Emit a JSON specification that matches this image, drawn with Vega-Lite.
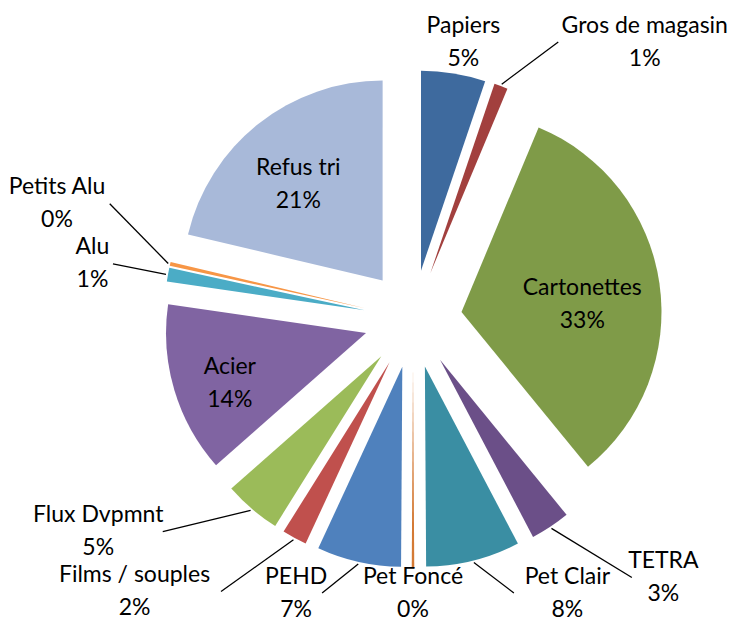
{
  "$schema": "https://vega.github.io/schema/vega-lite/v6.json",
  "width": 752,
  "height": 624,
  "padding": 0,
  "autosize": {"type": "none"},
  "background": "white",
  "config": {"view": {"stroke": null}},
  "data": {
    "values": [
      {"cat": "Papiers", "value": 5.2},
      {"cat": "Gros de magasin", "value": 1.1},
      {"cat": "Cartonettes", "value": 32.8},
      {"cat": "TETRA", "value": 3.2},
      {"cat": "Pet Clair", "value": 7.6},
      {"cat": "Pet Foncé", "value": 0.2},
      {"cat": "PEHD", "value": 6.8},
      {"cat": "Films / souples", "value": 2.0},
      {"cat": "Flux Dvpmnt", "value": 4.6},
      {"cat": "Acier", "value": 13.8},
      {"cat": "Alu", "value": 1.1},
      {"cat": "Petits Alu", "value": 0.3},
      {"cat": "Refus tri", "value": 21.3}
    ]
  },
  "transform": [
    {"joinaggregate": [{"op": "sum", "field": "value", "as": "total"}]},
    {"window": [{"op": "sum", "field": "value", "as": "cum"}], "frame": [null, 0]},
    {"calculate": "2*PI*(datum.cum-datum.value)/datum.total", "as": "a0"},
    {"calculate": "2*PI*datum.cum/datum.total", "as": "a1"},
    {"calculate": "(datum.a0+datum.a1)/2", "as": "m"},
    {"calculate": "sin(datum.m)", "as": "s"},
    {"calculate": "cos(datum.m)", "as": "c"},
    {"calculate": "0.245*datum.s", "as": "ex"},
    {"calculate": "-0.245*datum.c", "as": "ey"},
    {"calculate": "datum.value >= 10", "as": "inside"},
    {"calculate": "datum.cat + '\\n' + format(datum.value/100, '.0%')", "as": "lbl"},
    {"calculate": "max(length(datum.cat), 3)*0.055", "as": "w"},
    {"calculate": "datum.s > 0.2 ? 1 : (datum.s < -0.2 ? -1 : 0)", "as": "side"},
    {"calculate": "datum.side == 0 ? 1.55*datum.s : (1.4 + 0.7*abs(datum.c))*datum.s", "as": "ax"},
    {"calculate": "clamp(-1.55*datum.c, -1.385, 1.37)", "as": "ay0"},
    {
      "window": [
        {"op": "lag", "field": "ax", "as": "pax"},
        {"op": "lag", "field": "ay0", "as": "pay"},
        {"op": "lag", "field": "w", "as": "pw"},
        {"op": "lag", "field": "side", "as": "pside"},
        {"op": "lag", "field": "value", "as": "pval"}
      ]
    },
    {"calculate": "(!datum.inside && datum.pval != null && datum.pval < 10 && datum.side == -1 && datum.pside == -1 && (datum.ax - 0.02 - datum.w) < (datum.pax - 0.02) && (datum.ax - 0.02) > (datum.pax - 0.02 - datum.pw)) ? min(datum.ay0, datum.pay - 0.3) : datum.ay0", "as": "ay"},
    {"calculate": "datum.ay - 0.0825", "as": "ty"},
    {"calculate": "clamp(datum.ax + datum.side*(0.02 + datum.w/2), -2.065 + datum.w/2 + 0.01, 1.695 - datum.w/2 - 0.01)", "as": "lx"},
    {"calculate": "datum.ex + 1.01*datum.s", "as": "edx"},
    {"calculate": "datum.ey - 1.01*datum.c", "as": "edy"},
    {"calculate": "(datum.a1 - datum.a0)", "as": "span"},
    {"calculate": "1.1*4*sin(datum.span/2)/(3*datum.span)", "as": "cr"},
    {"calculate": "datum.ex + datum.cr*datum.s", "as": "ix"},
    {"calculate": "datum.ey - datum.cr*datum.c - 0.03", "as": "iy"}
  ],
  "layer": [
    {
      "mark": {"type": "arc", "outerRadius": 200},
      "encoding": {
        "x": {"field": "ex", "type": "quantitative", "scale": {"domain": [-2.065, 1.695], "nice": false, "zero": false}, "axis": null},
        "y": {"field": "ey", "type": "quantitative", "scale": {"domain": [-1.595, 1.525], "reverse": true, "nice": false, "zero": false}, "axis": null},
        "theta": {"field": "a0", "type": "quantitative", "scale": null, "stack": null},
        "theta2": {"field": "a1"},
        "color": {
          "field": "cat",
          "type": "nominal",
          "legend": null,
          "scale": {
            "domain": ["Papiers", "Gros de magasin", "Cartonettes", "TETRA", "Pet Clair", "Pet Foncé", "PEHD", "Films / souples", "Flux Dvpmnt", "Acier", "Alu", "Petits Alu", "Refus tri"],
            "range": ["#3E6A9E", "#A2403E", "#7F9B48", "#6B4F88", "#3A8EA3", "#D47A35", "#4F81BD", "#C0504D", "#9BBB59", "#8064A2", "#4BACC6", "#F79646", "#A8B9D9"]
          }
        }
      }
    },
    {
      "transform": [{"filter": "datum.inside"}],
      "mark": {"type": "text", "font": "Lato", "fontSize": 23, "lineHeight": 33, "lineBreak": "\n", "align": "center", "baseline": "middle", "color": "#000000"},
      "encoding": {
        "x": {"field": "ix", "type": "quantitative", "scale": {"domain": [-2.065, 1.695], "nice": false, "zero": false}, "axis": null},
        "y": {"field": "iy", "type": "quantitative", "scale": {"domain": [-1.595, 1.525], "reverse": true, "nice": false, "zero": false}, "axis": null},
        "text": {"field": "lbl", "type": "nominal"}
      }
    },
    {
      "transform": [{"filter": "!datum.inside && datum.side != 0"}],
      "mark": {"type": "rule", "color": "#000000", "strokeWidth": 1.3},
      "encoding": {
        "x": {"field": "edx", "type": "quantitative", "scale": {"domain": [-2.065, 1.695], "nice": false, "zero": false}, "axis": null},
        "y": {"field": "edy", "type": "quantitative", "scale": {"domain": [-1.595, 1.525], "reverse": true, "nice": false, "zero": false}, "axis": null},
        "x2": {"field": "ax"},
        "y2": {"field": "ay"}
      }
    },
    {
      "transform": [{"filter": "!datum.inside"}],
      "mark": {"type": "text", "font": "Lato", "fontSize": 23, "lineHeight": 33, "lineBreak": "\n", "align": "center", "baseline": "middle", "color": "#000000"},
      "encoding": {
        "x": {"field": "lx", "type": "quantitative", "scale": {"domain": [-2.065, 1.695], "nice": false, "zero": false}, "axis": null},
        "y": {"field": "ty", "type": "quantitative", "scale": {"domain": [-1.595, 1.525], "reverse": true, "nice": false, "zero": false}, "axis": null},
        "text": {"field": "lbl", "type": "nominal"}
      }
    }
  ]
}
